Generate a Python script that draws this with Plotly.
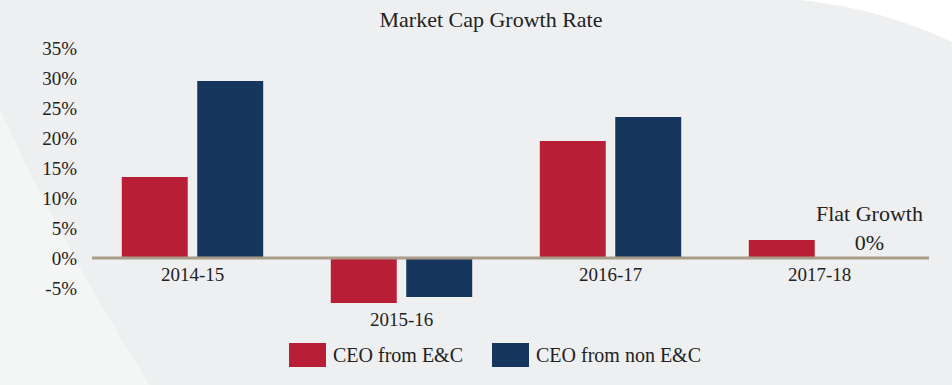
import plotly.graph_objects as go

categories = ["2014-15", "2015-16", "2016-17", "2017-18"]
series_names = ["CEO from E&C", "CEO from non E&C"]
ec_values = [13.5, -7.5, 19.5, 3.0]
non_ec_values = [29.5, -6.5, 23.5, 0.0]
tick_values = [-5, 0, 5, 10, 15, 20, 25, 30, 35]
tick_labels = ["-5%", "0%", "5%", "10%", "15%", "20%", "25%", "30%", "35%"]
colors = ["#b81f37", "#17365d"]

W, H = 952, 385
ML, MR, MT, MB = 88, 27, 42, 73
PW, PH = W - ML - MR, H - MT - MB

def px2paper(x, y):
    return (x - ML) / PW, (H - MB - y) / PH

FONT = "Liberation Serif"

fig = go.Figure()
for name, vals, col in zip(series_names, [ec_values, non_ec_values], colors):
    fig.add_trace(go.Bar(x=categories, y=vals, name=name, marker_color=col,
                         marker_line_width=0, showlegend=False, hoverinfo="skip"))

annotations = []
for cat, a, b in zip(categories, ec_values, non_ec_values):
    low = min(0, a, b)
    annotations.append(dict(x=cat, y=low, xref="x", yref="y", text=cat, showarrow=False,
                            yanchor="top", yshift=-4, font=dict(family=FONT, size=19, color="#222")))
annotations.append(dict(x=categories[3], y=non_ec_values[3], xref="x", yref="y",
                        text="Flat Growth<br>0%", showarrow=False, yanchor="bottom", xshift=50, yshift=1,
                        font=dict(family=FONT, size=22, color="#222")))

shapes = []
legend_items = [(289, series_names[0], colors[0]), (492, series_names[1], colors[1])]
for x0, name, col in legend_items:
    p0 = px2paper(x0, 343)
    p1 = px2paper(x0 + 37, 367)
    shapes.append(dict(type="rect", xref="paper", yref="paper", x0=p0[0], y0=p1[1], x1=p1[0], y1=p0[1],
                       fillcolor=col, line_width=0, layer="above"))
    tp = px2paper(x0 + 42, 355)
    annotations.append(dict(x=tp[0], y=tp[1], xref="paper", yref="paper", text=name, showarrow=False,
                            xanchor="left", yanchor="middle", font=dict(family=FONT, size=20, color="#222")))

def path_px(points):
    s = ""
    for cmd, pts in points:
        s += cmd + " " + " ".join(f"{px2paper(x, y)[0]:.4f},{px2paper(x, y)[1]:.4f}" for x, y in pts) + " "
    return s + "Z"

shapes.insert(0, dict(type="path", xref="paper", yref="paper", layer="below", line_width=0,
                      fillcolor="#ffffff",
                      path=path_px([("M", [(800, 0)]), ("Q", [(880, 8), (952, 42)]), ("L", [(952, 0)])])))
shapes.insert(0, dict(type="path", xref="paper", yref="paper", layer="below", line_width=0,
                      fillcolor="#f4f5f5",
                      path=path_px([("M", [(0, 110)]), ("Q", [(70, 260), (150, 385)]), ("L", [(0, 385)])])))

shapes.append(dict(type="line", xref="paper", yref="y", x0=px2paper(92, 0)[0], x1=px2paper(929, 0)[0],
                   y0=0, y1=0, line=dict(color="#a99c89", width=3), layer="above"))

fig.update_layout(
    width=W, height=H,
    margin=dict(l=ML, r=MR, t=MT, b=MB),
    paper_bgcolor="#eeeff0", plot_bgcolor="rgba(0,0,0,0)",
    title=dict(text="Market Cap Growth Rate", x=491 / W, xanchor="center", y=1 - 19 / H, yanchor="middle",
               font=dict(family=FONT, size=22, color="#222")),
    barmode="group", bargap=0.278, bargroupgap=0.126,
    xaxis=dict(showticklabels=False, showgrid=False, zeroline=False, showline=False),
    yaxis=dict(range=[-9, 36], tickvals=tick_values, ticktext=tick_labels, showgrid=False,
               zeroline=False, showline=False, ticklabelstandoff=10,
               tickfont=dict(family=FONT, size=19, color="#222")),
    annotations=annotations, shapes=shapes, showlegend=False,
)

fig.write_html("out.html", config={"displayModeBar": False},
               post_script="document.body.style.margin='0';document.body.style.overflow='hidden';")
